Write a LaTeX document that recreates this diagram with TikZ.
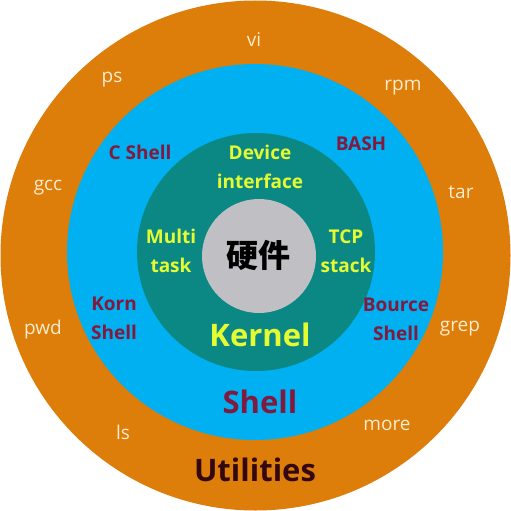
\documentclass[tikz,border=0pt]{standalone}
\usepackage{fontspec}
\setmainfont{Open Sans}
\newfontfamily\cjk{Noto Sans CJK SC}
\definecolor{ringorange}{RGB}{221,125,10}
\definecolor{ringblue}{RGB}{0,176,240}
\definecolor{ringteal}{RGB}{12,136,132}
\definecolor{coregray}{RGB}{192,192,196}
\definecolor{kyellow}{RGB}{228,252,50}
\definecolor{shred}{RGB}{130,25,62}
\definecolor{cream}{RGB}{255,236,205}
\definecolor{utildark}{RGB}{52,8,16}
\begin{document}
\begin{tikzpicture}[x=1pt,y=-1pt,
  util/.style={text=cream,font=\fontsize{19}{22}\selectfont,inner sep=0pt},
  shellname/.style={text=shred,font=\fontsize{19}{29}\selectfont\bfseries,align=center,inner sep=0pt},
  kernname/.style={text=kyellow,font=\fontsize{19}{29}\selectfont\bfseries,align=center,inner sep=0pt},
  title/.style={font=\fontsize{31}{36}\selectfont\bfseries,inner sep=0pt}]
\useasboundingbox (0,0) rectangle (511,511);
\fill[white] (0,0) rectangle (511,511);
\fill[ringorange] (255.5,255.5) circle (255);
\fill[ringblue] (255,252) circle (188);
\fill[ringteal] (256,252) circle (119);
\fill[coregray] (259,256) circle (57);
% core
\node[font=\cjk\fontsize{32}{36}\selectfont\bfseries,text=black,inner sep=0pt] (hw) at (258,255) {硬件};
% kernel
\node[kernname] (dev) at (260,167) {Device\\interface};
\node[kernname] (multi) at (171,251) {Multi\\task};
\node[kernname] (tcp) at (346,251.5) {TCP\\stack};
\node[title,text=kyellow] (kernel) at (260,335) {Kernel};
% shells
\node[shellname] (csh) at (140,152) {C Shell};
\node[shellname] (bash) at (361,144) {BASH};
\node[shellname] (korn) at (114,318.5) {Korn\\Shell};
\node[shellname] (bource) at (396,319) {Bource\\Shell};
\node[title,text=shred] (shell) at (260,402) {Shell};
% utilities
\node[util] (vi) at (254,40) {vi};
\node[util] (ps) at (112,80) {ps};
\node[util] (rpm) at (403,88) {rpm};
\node[util] (gcc) at (48,188) {gcc};
\node[util] (tar) at (461,192) {tar};
\node[util] (pwd) at (43,330) {pwd};
\node[util] (grep) at (460,329) {grep};
\node[util] (ls) at (123,432) {ls};
\node[util] (more) at (387,425) {more};
\node[title,text=utildark] (utilities) at (255,470) {Utilities};
\end{tikzpicture}
\end{document}
